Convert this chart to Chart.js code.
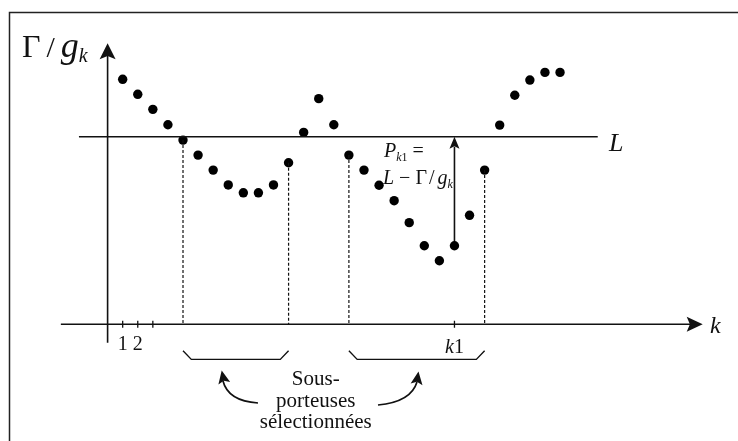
<!DOCTYPE html>
<html>
<head>
<meta charset="utf-8">
<script src="https://cdn.jsdelivr.net/npm/chart.js@4.4.0/dist/chart.umd.min.js"></script>
<style>
body { margin: 0; background: #fff; }
canvas { display: block; }
</style>
</head>
<body>
<canvas id="myChart" width="738" height="441"></canvas>
<script>
/* Data: sub-carrier index k and Γ/g_k */
var kValues = [1, 2, 3, 4, 5, 6, 7, 8, 9, 10, 11, 12, 13, 14, 15, 16, 17, 18, 19, 20, 21, 22, 23, 24, 25, 26, 27, 28, 29, 30];
var gammaOverG = [13.06, 12.26, 11.46, 10.64, 9.82, 9.02, 8.22, 7.43, 7.01, 7.01, 7.43, 8.61, 10.23, 12.03, 10.64,
                  9.02, 8.22, 7.41, 6.59, 5.42, 4.19, 3.39, 4.19, 5.81, 8.22, 10.62, 12.21, 13.02, 13.43, 13.43];
var thresholdL = 10;
var tickKs = [1, 2, 3];
var tickLabels = ['1', '2', ''];
var k1 = 23;
var selectedRanges = [[5, 12], [16, 25]];
var calloutLines = ['Sous-', 'porteuses', 'sélectionnées'];
/* End data */

var serif = '"Liberation Serif", "DejaVu Serif", serif';
var ink = '#111';

/* datasets */
var dots = [];
for (let i = 0; i < kValues.length; i++) {
    dots.push({x: kValues[i], y: gammaOverG[i]});
}
var datasets = [];
datasets.push({
    label: 'L',
    data: [{x: -1.9, y: thresholdL}, {x: 32.5, y: thresholdL}],
    showLine: true,
    borderColor: ink,
    borderWidth: 1.6,
    pointRadius: 0,
    clip: false
});
/* dashed drops at the edges of the selected groups */
for (let r = 0; r < selectedRanges.length; r++) {
    for (let e = 0; e < 2; e++) {
        let k = selectedRanges[r][e];
        datasets.push({
            label: 'edge ' + k,
            data: [{x: k, y: gammaOverG[kValues.indexOf(k)]}, {x: k, y: 0}],
            showLine: true,
            borderColor: ink,
            borderWidth: 1.2,
            borderDash: [3, 2],
            pointRadius: 0,
            clip: false
        });
    }
}
/* braces under the axis */
for (let r = 0; r < selectedRanges.length; r++) {
    let a = selectedRanges[r][0], b = selectedRanges[r][1];
    datasets.push({
        label: 'brace ' + r,
        data: [{x: a, y: -1.41}, {x: a + 0.55, y: -1.87}, {x: b - 0.55, y: -1.87}, {x: b, y: -1.41}],
        showLine: true,
        borderColor: ink,
        borderWidth: 1.4,
        pointRadius: 0,
        clip: false
    });
}
datasets.push({
    label: 'Γ/g_k',
    data: dots,
    showLine: false,
    pointRadius: 4.7,
    pointBackgroundColor: '#000',
    pointBorderWidth: 0,
    clip: false
});

function richText(ctx, x, y, runs) {
    for (let i = 0; i < runs.length; i++) {
        let r = runs[i];
        ctx.font = (r.it ? 'italic ' : '') + r.size + 'px ' + serif;
        ctx.fillText(r.t, x, y + (r.dy || 0));
        x += ctx.measureText(r.t).width + (r.gap || 0);
    }
}
function runsWidth(ctx, runs) {
    var w = 0;
    for (let i = 0; i < runs.length; i++) {
        ctx.font = (runs[i].it ? 'italic ' : '') + runs[i].size + 'px ' + serif;
        w += ctx.measureText(runs[i].t).width + (runs[i].gap || 0);
    }
    return w;
}
function arrowHead(ctx, tx, ty, ang, len, half) {
    ctx.beginPath();
    ctx.moveTo(tx, ty);
    ctx.lineTo(tx - len * Math.cos(ang) + half * Math.sin(ang), ty - len * Math.sin(ang) - half * Math.cos(ang));
    ctx.lineTo(tx - len * Math.cos(ang) * 0.8, ty - len * Math.sin(ang) * 0.8);
    ctx.lineTo(tx - len * Math.cos(ang) - half * Math.sin(ang), ty - len * Math.sin(ang) + half * Math.cos(ang));
    ctx.closePath();
    ctx.fill();
}

var drawingPlugin = {
    id: 'drawing',
    beforeDatasetsDraw: function(chart) {
        var ctx = chart.ctx;
        var xs = chart.scales.x, ys = chart.scales.y;
        var X = function(v) { return xs.getPixelForValue(v); };
        var Y = function(v) { return ys.getPixelForValue(v); };
        ctx.save();
        ctx.strokeStyle = '#222';
        ctx.fillStyle = ink;
        /* frame */
        ctx.lineWidth = 1.5;
        ctx.beginPath();
        ctx.moveTo(9.5, 441);
        ctx.lineTo(9.5, 12.5);
        ctx.lineTo(738, 12.5);
        ctx.stroke();
        /* axes */
        ctx.strokeStyle = ink;
        ctx.lineWidth = 1.6;
        ctx.beginPath();
        ctx.moveTo(X(-3.1), Y(0));
        ctx.lineTo(X(xs.max) - 8, Y(0));
        ctx.moveTo(X(0), Y(-0.98));
        ctx.lineTo(X(0), Y(ys.max) + 8);
        ctx.stroke();
        arrowHead(ctx, X(xs.max), Y(0), 0, 16, 7.5);
        arrowHead(ctx, X(0), Y(ys.max), -Math.PI / 2, 16, 8);
        /* ticks */
        ctx.lineWidth = 1.3;
        var tks = tickKs.concat([k1]);
        ctx.beginPath();
        for (let i = 0; i < tks.length; i++) {
            ctx.moveTo(X(tks[i]), Y(0) - 3.5);
            ctx.lineTo(X(tks[i]), Y(0) + 3.5);
        }
        ctx.stroke();
        ctx.textBaseline = 'alphabetic';
        ctx.textAlign = 'center';
        ctx.font = '20px ' + serif;
        for (let i = 0; i < tickKs.length; i++) {
            if (tickLabels[i]) ctx.fillText(tickLabels[i], X(tickKs[i]), Y(0) + 26);
        }
        ctx.textAlign = 'left';
        var k1Runs = [{t: 'k', it: true, size: 20}, {t: '1', size: 20}];
        richText(ctx, X(k1) - runsWidth(ctx, k1Runs) / 2, Y(0) + 29, k1Runs);
        /* axis labels */
        richText(ctx, 22, 57, [{t: 'Γ', size: 32, gap: 6}, {t: '/', size: 30, gap: 6}, {t: 'g', it: true, size: 36}, {t: 'k', it: true, size: 20, dy: 5}]);
        richText(ctx, 609, Y(thresholdL) + 14, [{t: 'L', it: true, size: 26}]);
        richText(ctx, 710, Y(0) + 9, [{t: 'k', it: true, size: 24}]);
        /* P_k1 arrow */
        var gk1 = gammaOverG[kValues.indexOf(k1)];
        ctx.lineWidth = 1.6;
        ctx.beginPath();
        ctx.moveTo(X(k1), Y(gk1));
        ctx.lineTo(X(k1), Y(thresholdL) + 10);
        ctx.stroke();
        arrowHead(ctx, X(k1), Y(thresholdL), -Math.PI / 2, 12, 5);
        richText(ctx, 384, 157, [{t: 'P', it: true, size: 20}, {t: 'k', it: true, size: 12, dy: 4}, {t: '1', size: 12, dy: 4, gap: 5}, {t: '=', size: 20}]);
        richText(ctx, 383, 184, [{t: 'L', it: true, size: 20}, {t: ' − ', size: 20}, {t: 'Γ', size: 20, gap: 2}, {t: '/', size: 20, gap: 3}, {t: 'g', it: true, size: 20}, {t: 'k', it: true, size: 12, dy: 4}]);
        /* callout text */
        var cx = X((selectedRanges[0][1] + selectedRanges[1][0]) / 2) - 3;
        ctx.textAlign = 'center';
        ctx.font = '21px ' + serif;
        for (let i = 0; i < calloutLines.length; i++) {
            ctx.fillText(calloutLines[i], cx, Y(-2.86) + 7 + i * 21.7);
        }
        /* curved arrows to the braces */
        ctx.lineWidth = 1.7;
        ctx.beginPath();
        ctx.moveTo(258, 403);
        ctx.quadraticCurveTo(228, 401, 223, 381);
        ctx.moveTo(378, 405);
        ctx.quadraticCurveTo(411, 402, 417, 382);
        ctx.stroke();
        arrowHead(ctx, 221.7, 370.5, -Math.PI / 2 - 0.2, 13, 6);
        arrowHead(ctx, 418.5, 371.5, -Math.PI / 2 + 0.15, 13, 6);
        ctx.restore();
    }
};

var myChart = new Chart(document.getElementById('myChart'), {
    type: 'scatter',
    data: {datasets: datasets},
    options: {
        responsive: false,
        animation: false,
        devicePixelRatio: 1,
        layout: {padding: {left: 107.6, right: 35.3, top: 43.3, bottom: 116.7}},
        scales: {
            x: {type: 'linear', min: 0, max: 39.46, display: false},
            y: {type: 'linear', min: 0, max: 14.98, display: false}
        },
        plugins: {legend: {display: false}, tooltip: {enabled: false}}
    },
    plugins: [drawingPlugin]
});
</script>
</body>
</html>
